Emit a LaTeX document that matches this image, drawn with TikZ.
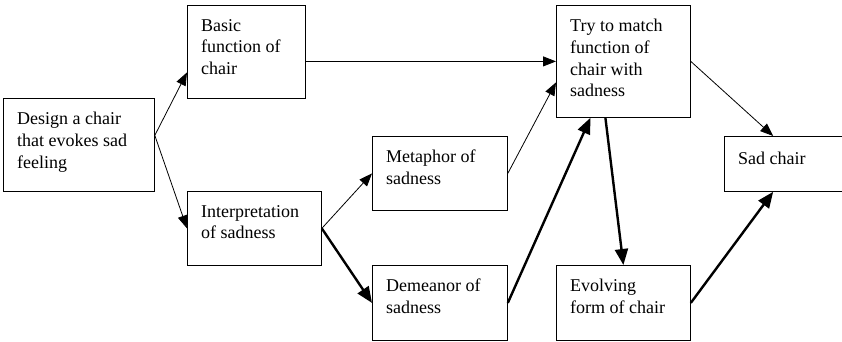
\documentclass[tikz,border=0pt]{standalone}
\usepackage{fontspec}
\setmainfont{LiberationSerif-Regular.ttf}
\usepackage{tikz}
\usetikzlibrary{arrows.meta}

\begin{document}
\begin{tikzpicture}[x=1pt,y=-1pt,
    stage/.style={draw,rectangle,anchor=north west,inner sep=0pt,line width=0.8pt},
    txt/.style={anchor=north west,align=left,inner sep=0pt,xshift=14pt,yshift=-14pt,
      font=\fontsize{18pt}{21.7pt}\selectfont},
    flow/.style={-{Triangle[length=13pt,width=10pt]},line width=0.8pt},
    mainflow/.style={-{Triangle[length=16pt,width=13pt]},line width=2.4pt}]
    \useasboundingbox (0,0) rectangle (842,341);
    \node[stage,minimum width=151pt,minimum height=93pt,label={[txt]north west:Design a chair\\that evokes sad\\feeling}] (design) at (3,98) {};
    \node[stage,minimum width=118pt,minimum height=93pt,label={[txt]north west:Basic\\function of\\chair}] (basic) at (187,5) {};
    \node[stage,minimum width=134pt,minimum height=74pt,label={[txt]north west:Interpretation\\of sadness}] (interp) at (187,191) {};
    \node[stage,minimum width=135pt,minimum height=74pt,label={[txt]north west:Metaphor of\\sadness}] (metaphor) at (372,136) {};
    \node[stage,minimum width=135pt,minimum height=75pt,label={[txt]north west:Demeanor of\\sadness}] (demeanor) at (372,265) {};
    \node[stage,minimum width=134pt,minimum height=112pt,label={[txt]north west:Try to match\\function of\\chair with\\sadness}] (match) at (556,5) {};
    \node[stage,minimum width=134pt,minimum height=75pt,label={[txt]north west:Evolving\\form of chair}] (evolving) at (556,265) {};
    \node[stage,minimum width=117.5pt,minimum height=55pt,label={[txt,yshift=-2pt]north west:Sad chair}] (sad) at (724,136) {};
    \draw[flow] ([yshift=9.5pt]design.east) -- ([yshift=-20.5pt]basic.west);
    \draw[flow] ([yshift=9.5pt]design.east) -- (interp.west);
    \draw[flow] (basic.east |- match.west) -- (match.west);
    \draw[flow] (interp.east) -- (metaphor.west);
    \draw[mainflow] (interp.east) -- (demeanor.west);
    \draw[flow] (metaphor.east) -- ([yshift=-21pt]match.west);
    \draw[mainflow] (demeanor.east) -- ([xshift=-33pt]match.south);
    \draw[mainflow] ([xshift=-18pt]match.south) -- (evolving.north);
    \draw[flow] (match.east) -- ([xshift=-10pt]sad.north);
    \draw[mainflow] (evolving.east) -- ([xshift=-10pt]sad.south);
\end{tikzpicture}
\end{document}
